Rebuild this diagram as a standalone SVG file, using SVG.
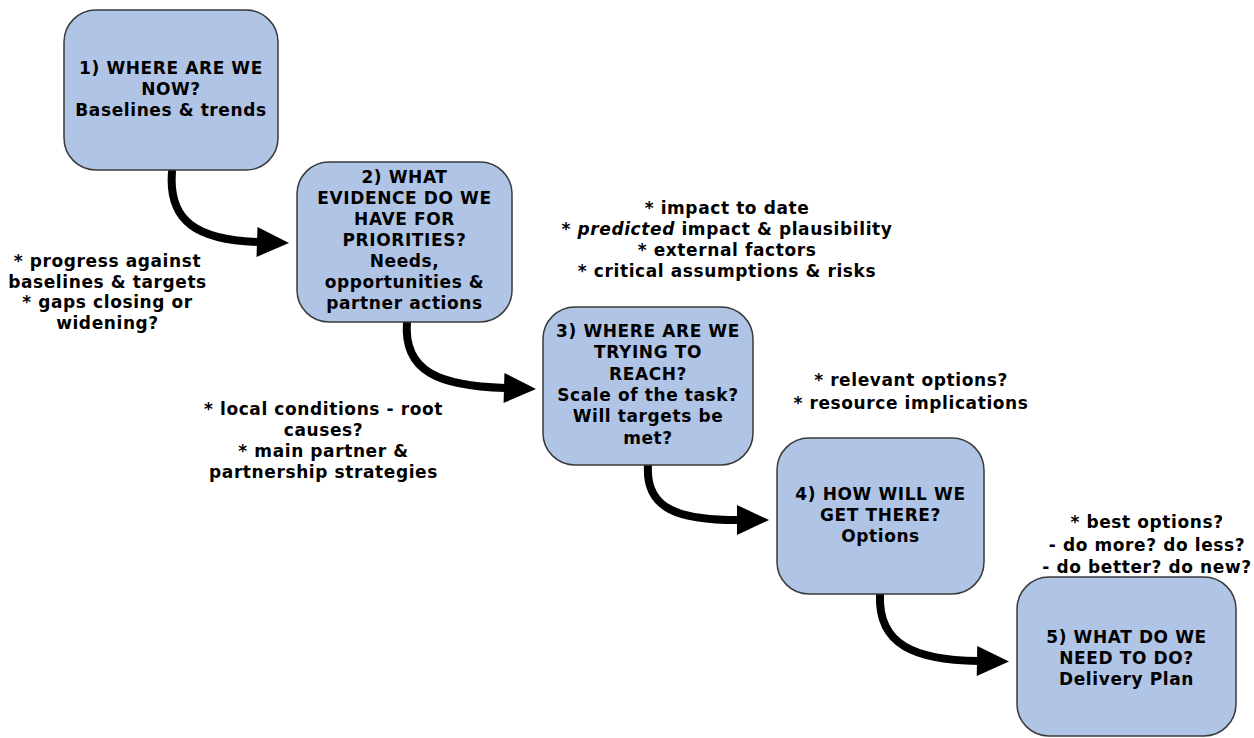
<svg xmlns="http://www.w3.org/2000/svg" width="1254" height="738" viewBox="0 0 1254 738">
<defs>
<style>
.box{fill:#b0c4e5;stroke:#3a3a3a;stroke-width:1.5}
.t{font-family:"DejaVu Sans",Verdana,sans-serif;font-weight:bold;font-size:17px;fill:#000;text-anchor:middle;letter-spacing:0.6px}
.arr{fill:none;stroke:#000;stroke-width:8;stroke-linecap:round}
</style>
<marker id="ah" markerUnits="userSpaceOnUse" markerWidth="34" markerHeight="32" refX="1" refY="15" orient="auto" overflow="visible">
<path d="M0,0 L32,15 L0,30 z" fill="#000"/>
</marker>
</defs>
<rect width="1254" height="738" fill="#fff"/>
<g id="connectors">
<path class="arr" d="M172,172 C168,222 198,240 258,242" marker-end="url(#ah)"/>
<path class="arr" d="M407,322 C403,372 440,386 505,388" marker-end="url(#ah)"/>
<path class="arr" d="M648,465 C645,510 680,520 738,520" marker-end="url(#ah)"/>
<path class="arr" d="M880,595 C878,645 915,660 978,661" marker-end="url(#ah)"/>
</g>
<g id="node1">
<rect class="box" x="64" y="10" width="214" height="160" rx="32"/>
<text class="t"><tspan x="171" y="74">1) WHERE ARE WE</tspan><tspan x="171" y="95">NOW?</tspan><tspan x="171" y="116">Baselines &amp; trends</tspan></text>
</g>
<g id="node2">
<rect class="box" x="297" y="162" width="215" height="160" rx="32"/>
<text class="t"><tspan x="404.5" y="183">2) WHAT</tspan><tspan x="404.5" y="204">EVIDENCE DO WE</tspan><tspan x="404.5" y="225">HAVE FOR</tspan><tspan x="404.5" y="246">PRIORITIES?</tspan><tspan x="404.5" y="267">Needs,</tspan><tspan x="404.5" y="288">opportunities &amp;</tspan><tspan x="404.5" y="309">partner actions</tspan></text>
</g>
<g id="node3">
<rect class="box" x="543" y="307" width="210" height="158" rx="32"/>
<text class="t"><tspan x="648" y="337">3) WHERE ARE WE</tspan><tspan x="648" y="358">TRYING TO</tspan><tspan x="648" y="380">REACH?</tspan><tspan x="648" y="401">Scale of the task?</tspan><tspan x="648" y="422">Will targets be</tspan><tspan x="648" y="444">met?</tspan></text>
</g>
<g id="node4">
<rect class="box" x="777" y="438" width="207" height="156" rx="32"/>
<text class="t"><tspan x="880.5" y="500">4) HOW WILL WE</tspan><tspan x="880.5" y="521">GET THERE?</tspan><tspan x="880.5" y="542">Options</tspan></text>
</g>
<g id="node5">
<rect class="box" x="1017" y="577" width="219" height="159" rx="32"/>
<text class="t"><tspan x="1126.5" y="643">5) WHAT DO WE</tspan><tspan x="1126.5" y="664">NEED TO DO?</tspan><tspan x="1126.5" y="685">Delivery Plan</tspan></text>
</g>
<g id="notes">
<text class="t"><tspan x="107.5" y="267">* progress against</tspan><tspan x="107.5" y="288">baselines &amp; targets</tspan><tspan x="107.5" y="308">* gaps closing or</tspan><tspan x="107.5" y="329">widening?</tspan></text>
<text class="t"><tspan x="727" y="214">* impact to date</tspan><tspan x="727" y="235">* <tspan font-style="italic">predicted</tspan> impact &amp; plausibility</tspan><tspan x="727" y="256">* external factors</tspan><tspan x="727" y="277">* critical assumptions &amp; risks</tspan></text>
<text class="t"><tspan x="323.5" y="415">* local conditions - root</tspan><tspan x="323.5" y="436">causes?</tspan><tspan x="323.5" y="457">* main partner &amp;</tspan><tspan x="323.5" y="478">partnership strategies</tspan></text>
<text class="t"><tspan x="911" y="386">* relevant options?</tspan><tspan x="911" y="409">* resource implications</tspan></text>
<text class="t"><tspan x="1147" y="528">* best options?</tspan><tspan x="1147" y="551">- do more? do less?</tspan><tspan x="1147" y="573">- do better? do new?</tspan></text>
</g>
</svg>
